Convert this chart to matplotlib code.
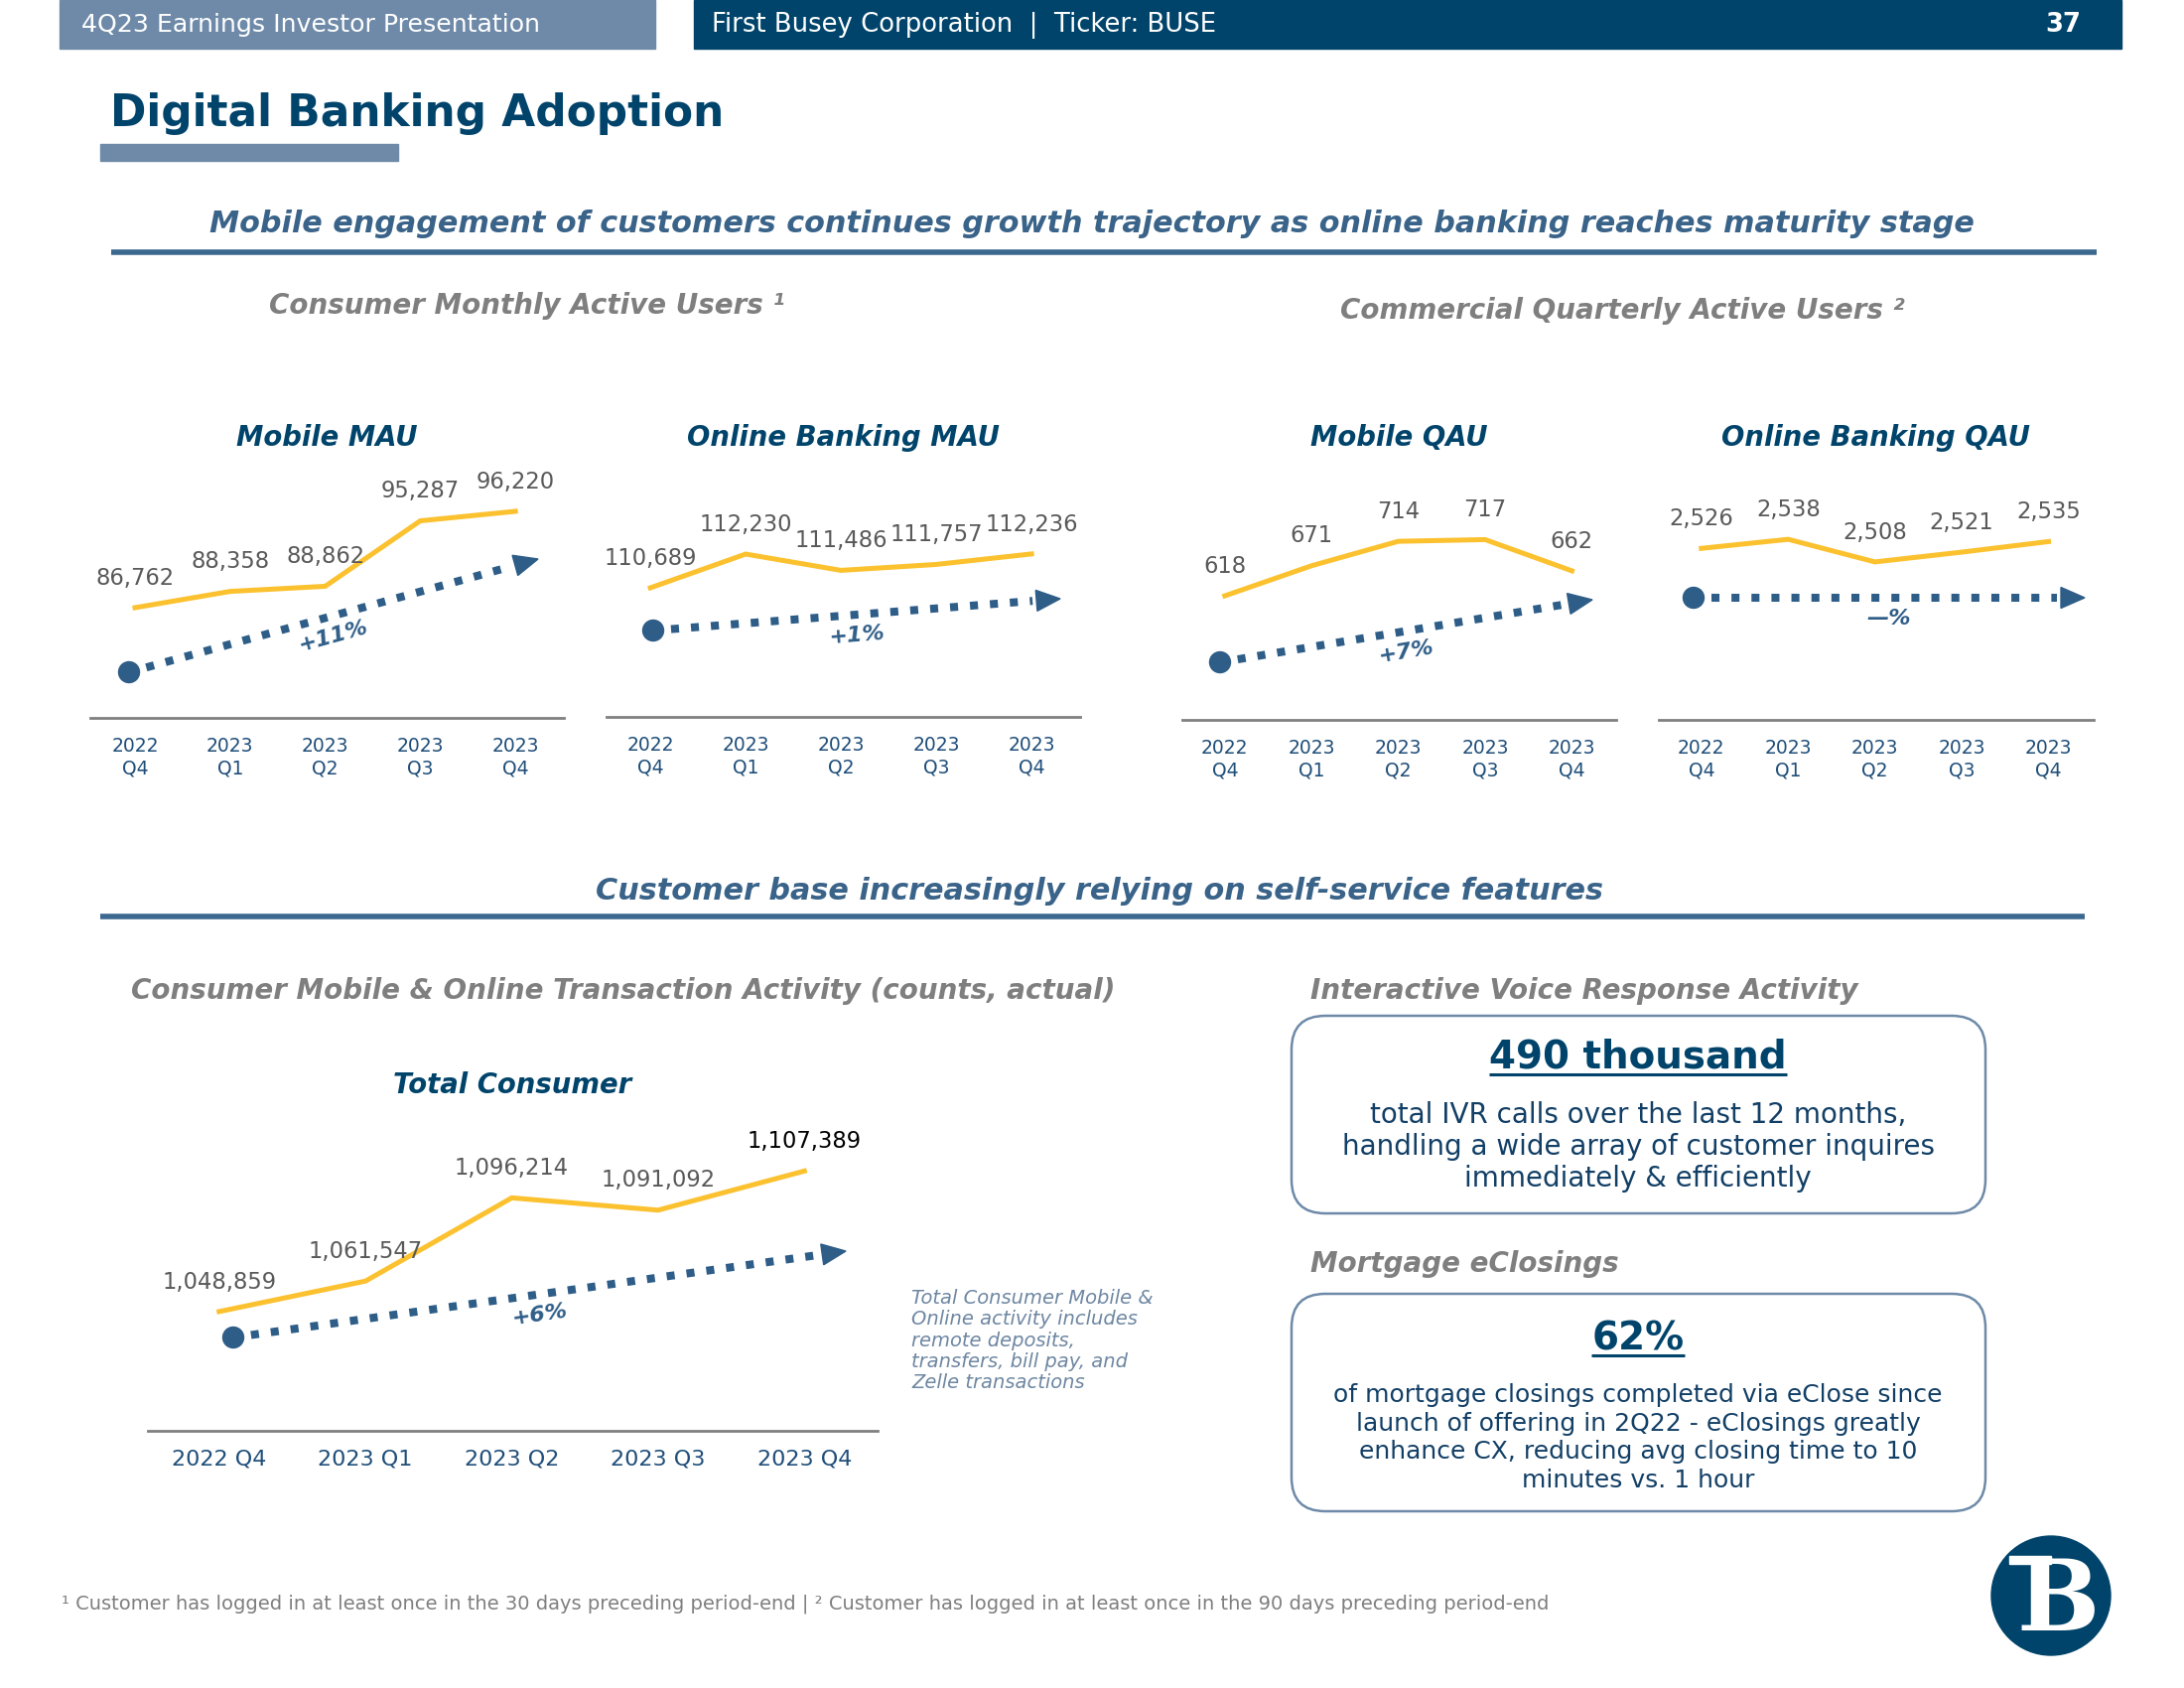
import math
import matplotlib
matplotlib.use("Agg")
import matplotlib.pyplot as plt
from matplotlib.patches import Rectangle, FancyBboxPatch, Polygon, Circle

# ---- data ----
quarters = ["2022 Q4", "2023 Q1", "2023 Q2", "2023 Q3", "2023 Q4"]
mobile_mau = [86762, 88358, 88862, 95287, 96220]
online_mau = [110689, 112230, 111486, 111757, 112236]
mobile_qau = [618, 671, 714, 717, 662]
online_qau = [2526, 2538, 2508, 2521, 2535]
total_consumer = [1048859, 1061547, 1096214, 1091092, 1107389]

ivr_calls = "490 thousand"
eclose_share = "62%"

# ---- colours ----
NAVY = "#00446B"
SLATE = "#6E8AA8"
SUBHEAD = "#3A6389"
GRAY = "#7F7F7F"
LABEL = "#595959"
GOLD = "#FBC12F"
TREND = "#2E5D87"
TICK = "#1F4E79"
BODY = "#123F66"
NOTE = "#6E87A2"

W, H = 2200, 1700
fig = plt.figure(figsize=(22, 17), dpi=100)
bg = fig.add_axes([0, 0, 1, 1])
bg.set_xlim(0, W)
bg.set_ylim(H, 0)
bg.axis("off")


def px_axes(left, top, right, bottom):
    return fig.add_axes([left / W, 1 - bottom / H, (right - left) / W, (bottom - top) / H])


def pct_label(vals):
    p = round((vals[-1] / vals[0] - 1) * 100)
    return "\u2014%" if p == 0 else f"{p:+d}%"


def trend(p0, p1, text):
    (x0, y0), (x1, y1) = p0, p1
    L = math.hypot(x1 - x0, y1 - y0)
    ux, uy = (x1 - x0) / L, (y1 - y0) / L
    head_len, head_w = 24, 21
    bx, by = x1 - ux * head_len, y1 - uy * head_len
    bg.plot([x0 + ux * 18, bx - ux * 4], [y0 + uy * 18, by - uy * 4], color=TREND, lw=5.8,
            ls=(0, (1, 1.5)), dash_capstyle="butt")
    bg.add_patch(Circle((x0, y0), 10.5, color=TREND))
    nx, ny = -uy, ux
    bg.add_patch(Polygon([(x1, y1), (bx + nx * head_w / 2, by + ny * head_w / 2),
                          (bx - nx * head_w / 2, by - ny * head_w / 2)], closed=True, color=TREND))
    ang = math.degrees(math.atan2(-(y1 - y0), x1 - x0))
    bg.text((x0 + x1) / 2, (y0 + y1) / 2 + 21, text, rotation=ang, rotation_mode="anchor",
            ha="center", va="center", fontsize=16, fontweight="bold", fontstyle="italic", color=TREND)


def line_chart(box, values, xlim, ylim, title, title_y, ticks, tick_size, tick_pad, last_black=False):
    ax = px_axes(*box)
    ax.set_facecolor("none")
    xs = list(range(len(values)))
    ax.plot(xs, values, color=GOLD, lw=3.6, solid_joinstyle="miter", zorder=3)
    for i, v in enumerate(values):
        c = "black" if (last_black and i == len(values) - 1) else LABEL
        ax.annotate(f"{v:,}", (i, v), xytext=(0, 21.5), textcoords="offset points",
                    ha="center", va="center", fontsize=16.3, color=c)
    ax.set_xlim(*xlim)
    ax.set_ylim(*ylim)
    ax.set_xticks(xs)
    ax.set_xticklabels(ticks, fontsize=tick_size, color=TICK, linespacing=1.2)
    ax.tick_params(axis="x", length=0, pad=tick_pad)
    ax.set_yticks([])
    for s in ["left", "right", "top"]:
        ax.spines[s].set_visible(False)
    ax.spines["bottom"].set_color("#808080")
    ax.spines["bottom"].set_linewidth(2)
    bg.text((box[0] + box[2]) / 2, title_y, title, ha="center", va="baseline", fontsize=19.8,
            fontweight="bold", fontstyle="italic", color=NAVY)
    return ax


# ---- header ----
bg.add_patch(Rectangle((60, 0), 600, 49, color=SLATE))
bg.add_patch(Rectangle((699, 0), 1438, 49, color=NAVY))
bg.text(82, 25, "4Q23 Earnings Investor Presentation", ha="left", va="center", fontsize=18.2, color="white")
bg.text(717, 25, "First Busey Corporation  |  Ticker: BUSE", ha="left", va="center", fontsize=18.6, color="white")
bg.text(2096, 25, "37", ha="right", va="center", fontsize=18.6, fontweight="bold", color="white")

bg.text(111, 127, "Digital Banking Adoption", ha="left", va="baseline", fontsize=31.6, fontweight="bold", color=NAVY)
bg.add_patch(Rectangle((101, 145), 300, 17, color=SLATE))

# ---- section 1 ----
bg.text(1100, 234, "Mobile engagement of customers continues growth trajectory as online banking reaches maturity stage",
        ha="center", va="baseline", fontsize=21.8, fontweight="bold", fontstyle="italic", color=SUBHEAD)
bg.plot([112, 2112], [254, 254], color="#3C6890", lw=4, solid_capstyle="butt")

head_kw = dict(ha="left", va="baseline", fontsize=20, fontweight="bold", fontstyle="italic", color=GRAY)
bg.text(271, 316, "Consumer Monthly Active Users \u00b9", **head_kw)
bg.text(1350, 321, "Commercial Quarterly Active Users \u00b2", **head_kw)

two_line = [q.replace(" ", "\n") for q in quarters]
line_chart((91, 460, 568, 723), mobile_mau, (-0.47, 4.51), (75942, 101577), "Mobile MAU", 449,
           two_line, 13.5, 14)
line_chart((611, 460, 1088, 722), online_mau, (-0.46, 4.51), (104796, 116673), "Online Banking MAU", 449,
           two_line, 13.5, 14)
line_chart((1191, 460, 1628, 725), mobile_qau, (-0.49, 4.51), (399.5, 862.9), "Mobile QAU", 449,
           two_line, 13.5, 14)
line_chart((1671, 460, 2109, 725), online_qau, (-0.49, 4.52), (2298.3, 2647.6), "Online Banking QAU", 449,
           two_line, 13.5, 14)

trend((130, 677), (542, 563), pct_label(mobile_mau))
trend((658, 635), (1068, 603), pct_label(online_mau))
trend((1229, 667), (1604, 604), pct_label(mobile_qau))
trend((1706, 602), (2100, 602), pct_label(online_qau))

# ---- section 2 ----
bg.text(1108, 906, "Customer base increasingly relying on self-service features",
        ha="center", va="baseline", fontsize=21.8, fontweight="bold", fontstyle="italic", color=SUBHEAD)
bg.plot([101, 2100], [923, 923], color="#3C6890", lw=4, solid_capstyle="butt")

bg.text(132, 1006, "Consumer Mobile & Online Transaction Activity (counts, actual)", **head_kw)
bg.text(1320, 1006, "Interactive Voice Response Activity", **head_kw)
bg.text(1320, 1281, "Mortgage eClosings", **head_kw)

line_chart((149, 1130, 884, 1441), total_consumer, (-0.487, 4.5), (999190, 1127790), "Total Consumer", 1101,
           quarters, 16, 13, last_black=True)
trend((235, 1347), (852, 1260), pct_label(total_consumer))

bg.text(918, 1350, "Total Consumer Mobile &\nOnline activity includes\nremote deposits,\ntransfers, bill pay, and\nZelle transactions",
        ha="left", va="center", fontsize=14, fontstyle="italic", color=NOTE, linespacing=1.15)

# ---- callout boxes ----
for top, bottom in [(1023, 1222), (1303, 1522)]:
    bg.add_patch(FancyBboxPatch((1301, top), 699, bottom - top, boxstyle="round,pad=0,rounding_size=34",
                                fc="white", ec=SLATE, lw=1.8))

renderer = fig.canvas.get_renderer()
inv = bg.transData.inverted()
for txt, base in [(ivr_calls, 1076), (eclose_share, 1359)]:
    t = bg.text(1650, base, txt, ha="center", va="baseline", fontsize=28, fontweight="bold", color=NAVY)
    bb = t.get_window_extent(renderer)
    xa, _ = inv.transform((bb.x0, bb.y0))
    xb, _ = inv.transform((bb.x1, bb.y0))
    bg.plot([xa, xb], [base + 6, base + 6], color=NAVY, lw=2.2, solid_capstyle="butt")

bg.text(1650, 1155, "total IVR calls over the last 12 months,\nhandling a wide array of customer inquires\nimmediately & efficiently",
        ha="center", va="center", fontsize=20, color=BODY, linespacing=1.16)
bg.text(1650, 1448, "of mortgage closings completed via eClose since\nlaunch of offering in 2Q22 - eClosings greatly\n"
        "enhance CX, reducing avg closing time to 10\nminutes vs. 1 hour",
        ha="center", va="center", fontsize=18, color=BODY, linespacing=1.23)

# ---- footnote and logo ----
bg.text(62, 1615, "\u00b9 Customer has logged in at least once in the 30 days preceding period-end | "
        "\u00b2 Customer has logged in at least once in the 90 days preceding period-end",
        ha="left", va="center", fontsize=14, color=GRAY)

bg.add_patch(Circle((2066, 1607), 60, color=NAVY))
bg.text(2031, 1642, "B", ha="left", va="baseline", fontsize=71, fontweight="bold", family="DejaVu Serif", color="white")
bg.add_patch(Rectangle((2024, 1567), 42, 8, color="white"))
for xl in [2045, 2052]:
    bg.plot([xl, xl], [1586, 1628], color=NAVY, lw=1.2)

fig.savefig("out.png", dpi=100)
